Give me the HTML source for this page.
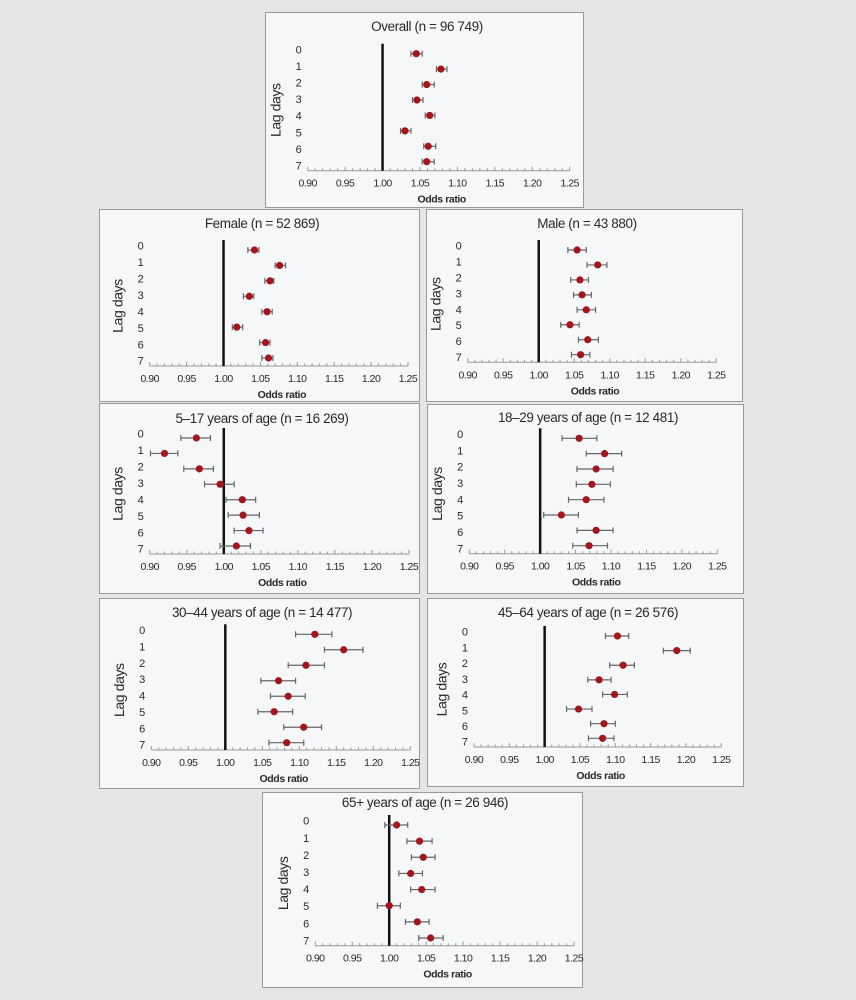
<!DOCTYPE html>
<html><head><meta charset="utf-8">
<style>
html,body{margin:0;padding:0;background:#e6e6e6;}
body{width:856px;height:1000px;overflow:hidden;position:relative;}
svg{position:absolute;left:0;top:0;}
text{font-family:"Liberation Sans Narrow","Liberation Sans",sans-serif;fill:#2a2a2a;}
</style></head>
<body>
<svg id="fig" width="856" height="1000" viewBox="0 0 856 1000"></svg>
<script>
const lags = [0,1,2,3,4,5,6,7];
const xTicks = [0.90,0.95,1.00,1.05,1.10,1.15,1.20,1.25];
const xTickLabels = ["0.90","0.95","1.00","1.05","1.10","1.15","1.20","1.25"];

const overallOR = [1.045,1.078,1.059,1.046,1.063,1.030,1.061,1.059];
const overallLo = [1.038,1.072,1.053,1.040,1.057,1.024,1.055,1.053];
const overallHi = [1.053,1.086,1.069,1.054,1.070,1.038,1.071,1.069];

const femaleOR = [1.042,1.076,1.063,1.035,1.059,1.018,1.057,1.061];
const femaleLo = [1.033,1.070,1.056,1.027,1.052,1.012,1.049,1.052];
const femaleHi = [1.048,1.084,1.068,1.041,1.066,1.026,1.063,1.067];

const maleOR = [1.054,1.083,1.058,1.061,1.067,1.044,1.069,1.059];
const maleLo = [1.041,1.068,1.045,1.049,1.054,1.031,1.056,1.046];
const maleHi = [1.067,1.096,1.070,1.074,1.080,1.057,1.084,1.072];

const age5OR = [0.963,0.920,0.967,0.995,1.025,1.026,1.034,1.017];
const age5Lo = [0.942,0.901,0.946,0.974,1.003,1.006,1.014,0.995];
const age5Hi = [0.982,0.938,0.986,1.014,1.043,1.048,1.053,1.036];

const age18OR = [1.055,1.091,1.079,1.073,1.065,1.030,1.079,1.069];
const age18Lo = [1.031,1.065,1.052,1.051,1.040,1.005,1.052,1.046];
const age18Hi = [1.080,1.115,1.103,1.099,1.090,1.054,1.103,1.095];

const age30OR = [1.121,1.160,1.109,1.072,1.085,1.066,1.106,1.083];
const age30Lo = [1.095,1.134,1.085,1.048,1.061,1.044,1.079,1.059];
const age30Hi = [1.144,1.186,1.134,1.095,1.108,1.091,1.130,1.106];

const age45OR = [1.103,1.187,1.111,1.077,1.099,1.048,1.084,1.082];
const age45Lo = [1.086,1.168,1.092,1.061,1.082,1.031,1.065,1.062];
const age45Hi = [1.119,1.206,1.127,1.094,1.117,1.067,1.100,1.098];

const age65OR = [1.010,1.041,1.046,1.029,1.044,1.000,1.038,1.056];
const age65Lo = [0.994,1.024,1.030,1.013,1.029,0.984,1.022,1.040];
const age65Hi = [1.025,1.058,1.062,1.045,1.062,1.015,1.054,1.073];

const panelTitles = ["Overall (n = 96 749)","Female (n = 52 869)","Male (n = 43 880)","5\u201317 years of age (n = 16 269)","18\u201329 years of age (n = 12 481)","30\u201344 years of age (n = 14 477)","45\u201364 years of age (n = 26 576)","65+ years of age (n = 26 946)"];
const panelSeries = [[overallOR,overallLo,overallHi],[femaleOR,femaleLo,femaleHi],[maleOR,maleLo,maleHi],[age5OR,age5Lo,age5Hi],[age18OR,age18Lo,age18Hi],[age30OR,age30Lo,age30Hi],[age45OR,age45Lo,age45Hi],[age65OR,age65Lo,age65Hi]];
const panelNames = ["overall","female","male","age-5-17","age-18-29","age-30-44","age-45-64","age-65-plus"];

const layout = [
 {bx:265,by:12,bw:318,bh:195,ax0:307.7,ax1:569.7,ay:170.7,y0:53.7,y7:161.7,ty:26},
 {bx:99,by:209,bw:320,bh:192,ax0:149.7,ax1:408,ay:366,y0:250,y7:358,ty:223},
 {bx:426,by:209,bw:316,bh:192,ax0:467.7,ax1:716.3,ay:362.3,y0:250,y7:354.7,ty:223},
 {bx:99,by:403,bw:320,bh:190,ax0:149.7,ax1:409,ay:554,y0:438,y7:546,ty:418},
 {bx:427,by:404,bw:316,bh:189,ax0:469.3,ax1:717.3,ay:553.7,y0:438.3,y7:545.7,ty:417},
 {bx:99,by:598,bw:320,bh:190,ax0:151.3,ax1:410.3,ay:750,y0:634.3,y7:742.7,ty:612},
 {bx:427,by:598,bw:316,bh:188,ax0:474,ax1:721.3,ay:747,y0:636,y7:738.3,ty:612},
 {bx:262,by:792,bw:320,bh:195,ax0:315.3,ax1:574,ay:945.7,y0:825,y7:938,ty:802}
];

const NS="http://www.w3.org/2000/svg";
const svg=document.getElementById('fig');
function mk(tag,attrs,parent){const e=document.createElementNS(NS,tag);for(const k in attrs)e.setAttribute(k,attrs[k]);(parent||svg).appendChild(e);return e;}

layout.forEach((L,p)=>{
  const g=mk('g',{});
  
  
  const box=mk('rect',{x:L.bx+0.5,y:L.by+0.5,width:L.bw,height:L.bh,fill:'#f5f7f8',stroke:'#9a9a9a','stroke-width':1},g);
  
  
  const xs=v=>L.ax0+(v-0.90)/(0.35)*(L.ax1-L.ax0);
  const ys=i=>L.y0+i*(L.y7-L.y0)/7;
  const cx=(L.bx+L.bx+L.bw)/2;
  const t=mk('text',{x:cx+3,y:L.ty+5,'text-anchor':'middle','font-size':13.5,'letter-spacing':'-0.4'},g);
  t.textContent=panelTitles[p];
  
  
  const ax=mk('line',{x1:L.ax0,y1:L.ay,x2:L.ax1,y2:L.ay,stroke:'#999','stroke-width':1},g);
  
  
  for(let k=0;k<=35;k++){
    const v=0.90+k*0.01, x=xs(v), maj=(k%5===0);
    mk('line',{x1:x,y1:L.ay,x2:x,y2:L.ay-(maj?4:2.5),stroke:'#999','stroke-width':1},g);
  }
  xTicks.forEach((v,i)=>{
    const tl=mk('text',{x:xs(v),y:L.ay+16,'text-anchor':'middle','font-size':10.5,'letter-spacing':'-0.5','fill':'#333'},g);
    tl.textContent=xTickLabels[i];
    
    
  });
  const xt=mk('text',{x:(L.ax0+L.ax1)/2+3,y:L.ay+32,'text-anchor':'middle','font-size':10.5,'font-weight':'bold','letter-spacing':'-0.4'},g);
  xt.textContent='Odds ratio';
  
  
  const ycx=L.ax0-31, ycy=(L.y0+L.ay)/2-2;
  const yt=mk('text',{x:ycx,y:ycy,'text-anchor':'middle','font-size':14,'letter-spacing':'-0.4',transform:`rotate(-90 ${ycx} ${ycy})`,'dominant-baseline':'middle'},g);
  yt.textContent='Lag days';
  
  
  const la=L.y0-4.3, lb=L.ay-5.3;
  lags.forEach((lag,i)=>{
    const ll=mk('text',{x:L.ax0-6,y:la+i*(lb-la)/7+4,'text-anchor':'end','font-size':11,'fill':'#333'},g);
    ll.textContent=String(lag);
    
    
  });
  const rl=mk('line',{x1:xs(1.0),y1:L.y0-10,x2:xs(1.0),y2:L.ay,stroke:'#111','stroke-width':2.5},g);
  
  
  const [orA,loA,hiA]=panelSeries[p];
  lags.forEach((lag,i)=>{
    const y=ys(i), x1=xs(loA[i]), x2=xs(hiA[i]);
    const eg=mk('g',{},g);
    
    
    mk('line',{x1:x1,y1:y,x2:x2,y2:y,stroke:'#666','stroke-width':1.2},eg);
    mk('line',{x1:x1,y1:y-3,x2:x1,y2:y+3,stroke:'#666','stroke-width':1.2},eg);
    mk('line',{x1:x2,y1:y-3,x2:x2,y2:y+3,stroke:'#666','stroke-width':1.2},eg);
    const c=mk('circle',{cx:xs(orA[i]),cy:y,r:3.6,fill:'#a3161c'},g);
    
    
  });
});
</script>
</body></html>
